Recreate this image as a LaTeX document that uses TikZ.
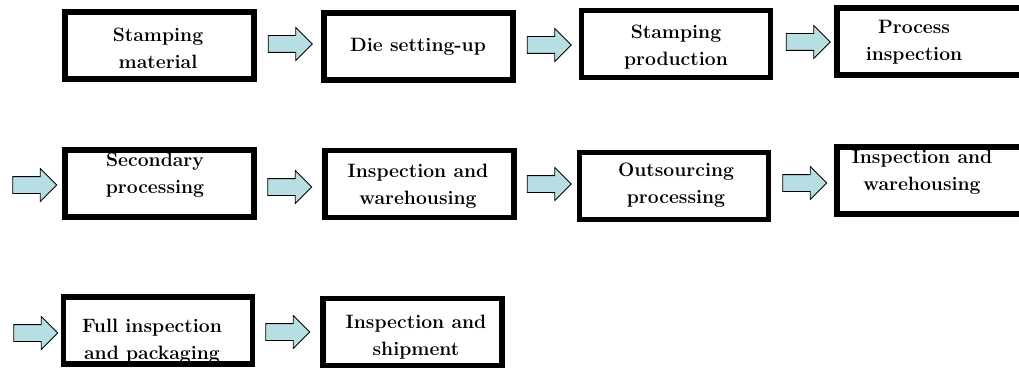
\documentclass[tikz,border=0pt]{standalone}
\usetikzlibrary{shapes.arrows}
\definecolor{arrowfill}{RGB}{183,222,226}
\begin{document}
\begin{tikzpicture}[x=0.75pt,y=-0.75pt,
  stagebox/.style={draw=black,line width=4.3pt,fill=white,inner sep=0pt,
    minimum width=189*0.75pt,minimum height=67*0.75pt},
  label/.style={font=\fontsize{14.5}{20}\selectfont\bfseries,align=center,inner sep=0pt},
  blockarrow/.style={single arrow,draw=black,line width=0.6pt,fill=arrowfill,
    inner xsep=0pt,inner ysep=6pt,minimum height=44*0.75pt,
    single arrow head extend=6pt}]
\useasboundingbox (0,0) rectangle (1019,367);
\clip (0,0) rectangle (1019,367);
% boxes
\node[stagebox] (b1) at (159.5,45.5) {};
\node[stagebox] (b2) at (418.5,46.5) {};
\node[stagebox] (b3) at (676,44) {};
\node[stagebox] (b4) at (931.5,41.5) {};
\node[stagebox] (b5) at (159.5,183.5) {};
\node[stagebox] (b6) at (419.5,184) {};
\node[stagebox] (b7) at (674,186) {};
\node[stagebox] (b8) at (931.5,180.5) {};
\node[stagebox] (b9) at (158,330.5) {};
\node[stagebox,minimum width=179*0.75pt] (b10) at (412.5,332) {};
% labels
\node[label] (t1) at (158,48) {Stamping\\material};
\node[label] (t2) at (418,47) {Die setting-up};
\node[label] (t3) at (676,47) {Stamping\\production};
\node[label] (t4) at (914,42) {Process\\inspection};
\node[label] (t5) at (155,175) {Secondary\\processing};
\node[label] (t6) at (418,186) {Inspection and\\warehousing};
\node[label] (t7) at (676,185) {Outsourcing\\processing};
\node[label] (t8) at (922,172) {Inspection and\\warehousing};
\node[label] (t9) at (152,341) {Full inspection\\and packaging};
\node[label] (t10) at (416,337) {Inspection and\\shipment};
% arrows
\node[blockarrow] (a1) at (286,44) {};
\node[blockarrow] (a2) at (545,45) {};
\node[blockarrow] (a3) at (804,42) {};
\node[blockarrow] (a4) at (30.5,185) {};
\node[blockarrow] (a5) at (285.5,187) {};
\node[blockarrow] (a6) at (545,184) {};
\node[blockarrow] (a7) at (800.5,183) {};
\node[blockarrow] (a8) at (31.5,333) {};
\node[blockarrow] (a9) at (283.5,332) {};
\end{tikzpicture}
\end{document}
